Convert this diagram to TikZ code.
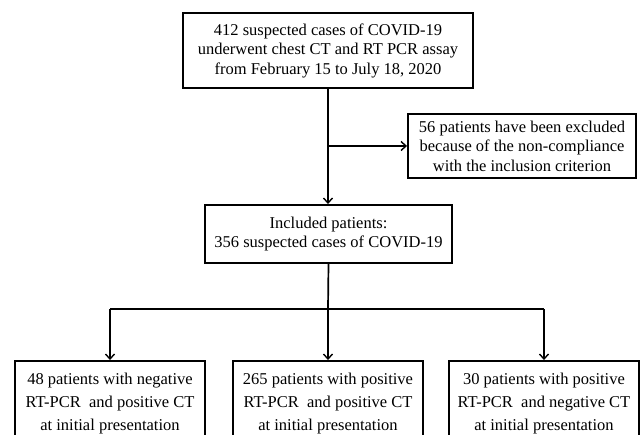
\documentclass[tikz,border=0pt]{standalone}
\usepackage{fontspec}
\setmainfont{Liberation Serif}
\usetikzlibrary{arrows.meta}
\begin{document}
\begin{tikzpicture}[x=1pt,y=-1pt,
  box/.style={draw,line width=1.9pt,rectangle,align=center,inner sep=0pt,
    font=\fontsize{16.5}{19.5}\selectfont},
  lowbox/.style={box,font=\fontsize{16.5}{23}\selectfont,minimum width=190pt},
  link/.style={line width=1.7pt},
  arr/.style={link,-{Straight Barb[length=5pt,width=9pt,line width=1.4pt]}}]
\useasboundingbox (0,0) rectangle (641,435);
\clip (0,0) rectangle (641,435);
\fill[white] (0,0) rectangle (641,435);
\node[box,minimum width=290pt,minimum height=75pt] (top) at (328,50.5)
  {412 suspected cases of COVID-19\\underwent chest CT and RT PCR assay\\from February 15 to July 18, 2020};
\node[box,minimum width=228pt,minimum height=64pt] (excl) at (522,146)
  {56 patients have been excluded\\because of the non-compliance\\with the inclusion criterion};
\node[box,minimum width=247pt,minimum height=58pt] (incl) at (328.5,234)
  {Included patients:\\356 suspected cases of COVID-19};
\node[lowbox,minimum height=86pt] (b1) at (110,404)
  {48 patients with negative\\RT-PCR~ and positive CT\\at initial presentation};
\node[lowbox,minimum height=86pt] (b2) at (328,404)
  {265 patients with positive\\RT-PCR~ and positive CT\\at initial presentation};
\node[lowbox,minimum height=86pt] (b3) at (544,404)
  {30 patients with positive\\RT-PCR~ and negative CT\\at initial presentation};
\coordinate (j) at (328,309);
\coordinate (ex) at (top.south |- excl.west);
\draw[arr] (top.south) -- (top.south |- incl.north);
\draw[arr] (ex) -- (excl.west);
\draw[link] (incl.south) -- (j);
\draw[link] (b1.north |- j) -- (b3.north |- j);
\draw[arr] (b1.north |- j) -- (b1.north);
\draw[arr] (j) -- (b2.north);
\draw[arr] (b3.north |- j) -- (b3.north);
\end{tikzpicture}
\end{document}
